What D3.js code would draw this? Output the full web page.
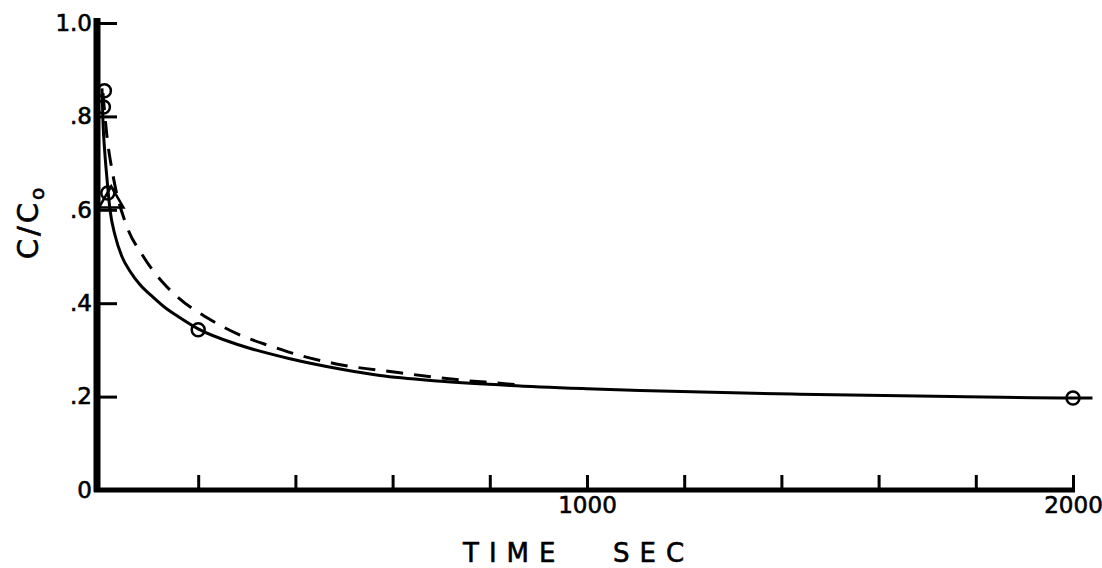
<!DOCTYPE html>
<html>
<head>
<meta charset="utf-8">
<script src="https://cdn.jsdelivr.net/npm/d3@7"></script>
<style>
  html, body { margin: 0; padding: 0; background: #fff; }
  svg { display: block; }
  text { font-family: "DejaVu Sans", sans-serif; fill: #000; }
</style>
</head>
<body>
<svg id="chart" width="1102" height="568"></svg>
<script>
// Relative concentration C/C0 against time (seconds)
const solidTime  = [2, 4, 8, 12, 18.5, 29, 43, 60, 80, 107, 135, 158, 200, 286, 389, 492, 574, 700, 842, 1000, 1109, 1438, 1750, 2000, 2040];
const solidValue = [0.86, 0.79, 0.72, 0.67, 0.6, 0.545, 0.5, 0.468, 0.44, 0.413, 0.388, 0.372, 0.345, 0.31, 0.281, 0.259, 0.245, 0.233, 0.224, 0.217, 0.213, 0.205, 0.2, 0.197, 0.197];

const dashTime  = [4, 12, 25, 53, 84, 132, 158, 226, 290, 350, 414, 484, 615, 683, 755, 815, 870];
const dashValue = [0.85, 0.76, 0.672, 0.565, 0.505, 0.439, 0.413, 0.364, 0.33, 0.308, 0.287, 0.27, 0.251, 0.242, 0.234, 0.229, 0.224];

const circleTime  = [5, 7, 14, 200, 2000];
const circleValue = [0.82, 0.855, 0.636, 0.343, 0.197];

const triangleTime  = [21];
const triangleValue = [0.62];

const yTicks  = [0, 0.2, 0.4, 0.6, 0.8, 1.0];
const yLabels = ["0", ".2", ".4", ".6", ".8", "1.0"];
const xTicks  = [200, 400, 600, 800, 1000, 1200, 1400, 1600, 1800, 2000];
const xLabels = ["", "", "", "", "1000", "", "", "", "", "2000"];

const svg = d3.select("#chart");

const x = d3.scaleLinear().domain([0, 2000]).range([101, 1073]);
const y = d3.scaleLinear().domain([0, 1]).range([490, 23]);

// X axis: ticks point up into the plot, labels only at 1000 and 2000
const xAxis = svg.append("g")
  .attr("transform", `translate(0,${y(0)})`)
  .call(d3.axisBottom(x)
    .tickValues(xTicks)
    .tickSizeInner(-15)
    .tickSizeOuter(0)
    .tickPadding(7)
    .tickFormat((d, i) => xLabels[i]));
xAxis.select(".domain").attr("stroke", "#000").attr("stroke-width", 5)
  .attr("d", `M${x(0) - 7},0H${x(2000) + 2}`);
xAxis.selectAll(".tick line").attr("stroke", "#000").attr("stroke-width", 3);
xAxis.selectAll(".tick text")
  .style("font-size", "23px").style("font-family", "DejaVu Sans, sans-serif")
  .attr("stroke", "#000").attr("stroke-width", 0.6);

// Y axis: ticks point right into the plot, labels on the left
const yAxis = svg.append("g")
  .attr("transform", `translate(97,0)`)
  .call(d3.axisLeft(y)
    .tickValues(yTicks)
    .tickSizeInner(-20)
    .tickSizeOuter(0)
    .tickPadding(5)
    .tickFormat((d, i) => yLabels[i]));
yAxis.select(".domain").attr("stroke", "#000").attr("stroke-width", 7)
  .attr("d", `M0,${y(0) + 2}V${y(1) - 5}`);
yAxis.selectAll(".tick line").attr("stroke", "#000").attr("stroke-width", 3);
yAxis.selectAll(".tick text")
  .style("font-size", "23px").style("font-family", "DejaVu Sans, sans-serif")
  .attr("stroke", "#000").attr("stroke-width", 0.6);

// Curves
const line = d3.line()
  .x(d => x(d[0]))
  .y(d => y(d[1]))
  .curve(d3.curveMonotoneX);

svg.append("path")
  .datum(d3.zip(solidTime, solidValue))
  .attr("d", line)
  .attr("fill", "none")
  .attr("stroke", "#000")
  .attr("stroke-width", 3);

svg.append("path")
  .datum(d3.zip(dashTime, dashValue))
  .attr("d", line)
  .attr("fill", "none")
  .attr("stroke", "#000")
  .attr("stroke-width", 3)
  .attr("stroke-dasharray", "17,11");

// Measured points
svg.append("g").selectAll("circle")
  .data(d3.zip(circleTime, circleValue))
  .join("circle")
  .attr("cx", d => x(d[0]))
  .attr("cy", d => y(d[1]))
  .attr("r", 6.5)
  .attr("fill", "none")
  .attr("stroke", "#000")
  .attr("stroke-width", 2.5);

const tri = d3.symbol().type(d3.symbolTriangle).size(260);
svg.append("g").selectAll("path")
  .data(d3.zip(triangleTime, triangleValue))
  .join("path")
  .attr("transform", d => `translate(${x(d[0])},${y(d[1])})`)
  .attr("d", tri)
  .attr("fill", "none")
  .attr("stroke", "#000")
  .attr("stroke-width", 2.5);

// Axis titles
const titleStyle = sel => sel
  .style("font-size", "26px")
  .style("letter-spacing", "10px")
  .attr("stroke", "#000").attr("stroke-width", 0.6);

svg.append("text").attr("x", 463).attr("y", 562).text("TIME").call(titleStyle);
svg.append("text").attr("x", 613).attr("y", 562).text("SEC").call(titleStyle);

const yTitle = svg.append("text")
  .attr("transform", "translate(38,222) rotate(-90)")
  .attr("text-anchor", "middle")
  .style("font-size", "29px")
  .style("letter-spacing", "3px")
  .attr("stroke", "#000").attr("stroke-width", 0.6);
yTitle.append("tspan").text("C/C");
yTitle.append("tspan").attr("dy", 6).style("font-size", "20px").text("o");
</script>
</body>
</html>
